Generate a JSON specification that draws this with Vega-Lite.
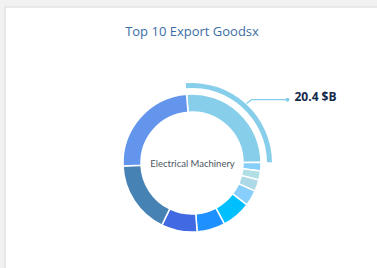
{
  "$schema": "https://vega.github.io/schema/vega-lite/v6.json",
  "width": 374,
  "height": 312,
  "autosize": {"type": "none"},
  "padding": {"left": 5, "top": 7, "right": -2, "bottom": -51},
  "background": "#f1f1f1",
  "config": {
    "view": {"fill": "white", "stroke": "#e2e2e2", "strokeWidth": 1.5},
    "font": "Open Sans"
  },
  "title": {
    "text": "Top 10 Export Goodsx",
    "color": "#3b6ea6",
    "fontSize": 13,
    "fontWeight": "normal",
    "font": "Open Sans",
    "anchor": "middle",
    "offset": -32
  },
  "datasets": {
    "goods": [
      {"rank": 1, "product": "Electrical Machinery", "value": 20.4, "label": "20.4 $B"},
      {"rank": 2, "product": "Pharmaceuticals", "value": 1.56},
      {"rank": 3, "product": "Furniture", "value": 1.67},
      {"rank": 4, "product": "Plastics", "value": 2.11},
      {"rank": 5, "product": "Optical Instruments", "value": 2.89},
      {"rank": 6, "product": "Iron and Steel", "value": 5.37},
      {"rank": 7, "product": "Vehicles", "value": 5.15},
      {"rank": 8, "product": "Mineral Fuels", "value": 6.54},
      {"rank": 9, "product": "Machinery", "value": 13.4},
      {"rank": 10, "product": "Organic Chemicals", "value": 19.1}
    ],
    "leader": [
      {"step": 1, "px": 54.5, "py": 59.5},
      {"step": 2, "px": 59.5, "py": 63.3},
      {"step": 3, "px": 95.5, "py": 63.3}
    ]
  },
  "layer": [
    {
      "data": {"name": "goods"},
      "mark": {"type": "arc", "radius": 75, "radius2": 80},
      "encoding": {
        "theta": {"field": "value", "type": "quantitative", "stack": true, "scale": {"range": [-0.0785, 6.2046]}},
        "order": {"field": "rank", "type": "quantitative"},
        "color": {
          "field": "product", "type": "nominal", "legend": null,
          "scale": {
            "domain": ["Electrical Machinery", "Pharmaceuticals", "Furniture", "Plastics", "Optical Instruments", "Iron and Steel", "Vehicles", "Mineral Fuels", "Machinery", "Organic Chemicals"],
            "range": ["#87CEEB", "#87CEFA", "#B0E0E6", "#ADD8E6", "#87CEFA", "#00BFFF", "#1E90FF", "#4169E1", "#4682B4", "#6495ED"]
          }
        },
        "opacity": {"condition": {"test": "datum.rank == 1", "value": 1}, "value": 0}
      }
    },
    {
      "data": {"name": "goods"},
      "mark": {"type": "arc", "innerRadius": 51, "outerRadius": 69, "stroke": "white", "strokeWidth": 1.5},
      "encoding": {
        "theta": {"field": "value", "type": "quantitative", "stack": true},
        "order": {"field": "rank", "type": "quantitative"},
        "color": {"field": "product", "type": "nominal", "legend": null}
      }
    },
    {
      "data": {"name": "goods"},
      "transform": [{"filter": "datum.rank == 1"}],
      "mark": {"type": "text", "font": "Lato", "fontSize": 9.5, "color": "#4f5661", "align": "center", "baseline": "middle"},
      "encoding": {
        "x": {"datum": 0.5, "type": "quantitative", "scale": {"domain": [-187, 187], "nice": false, "zero": false}, "axis": null},
        "y": {"datum": -0.5, "type": "quantitative", "scale": {"domain": [-156, 156], "nice": false, "zero": false}, "axis": null},
        "text": {"field": "product"}
      }
    },
    {
      "data": {"name": "leader"},
      "mark": {"type": "line", "color": "#87CEEB", "strokeWidth": 1.3},
      "encoding": {
        "x": {"field": "px", "type": "quantitative"},
        "y": {"field": "py", "type": "quantitative"},
        "order": {"field": "step"}
      }
    },
    {
      "data": {"name": "leader"},
      "transform": [{"filter": "datum.step == 3"}],
      "mark": {"type": "point", "filled": true, "size": 16, "color": "#87CEEB", "opacity": 1},
      "encoding": {
        "x": {"field": "px", "type": "quantitative"},
        "y": {"field": "py", "type": "quantitative"}
      }
    },
    {
      "data": {"name": "goods"},
      "transform": [{"filter": "datum.rank == 1"}],
      "mark": {"type": "text", "fontSize": 12, "fontWeight": "bold", "color": "#13294b", "align": "left", "baseline": "alphabetic"},
      "encoding": {
        "x": {"datum": 102.5, "type": "quantitative"},
        "y": {"datum": 62.5, "type": "quantitative"},
        "text": {"field": "label"}
      }
    }
  ]
}
